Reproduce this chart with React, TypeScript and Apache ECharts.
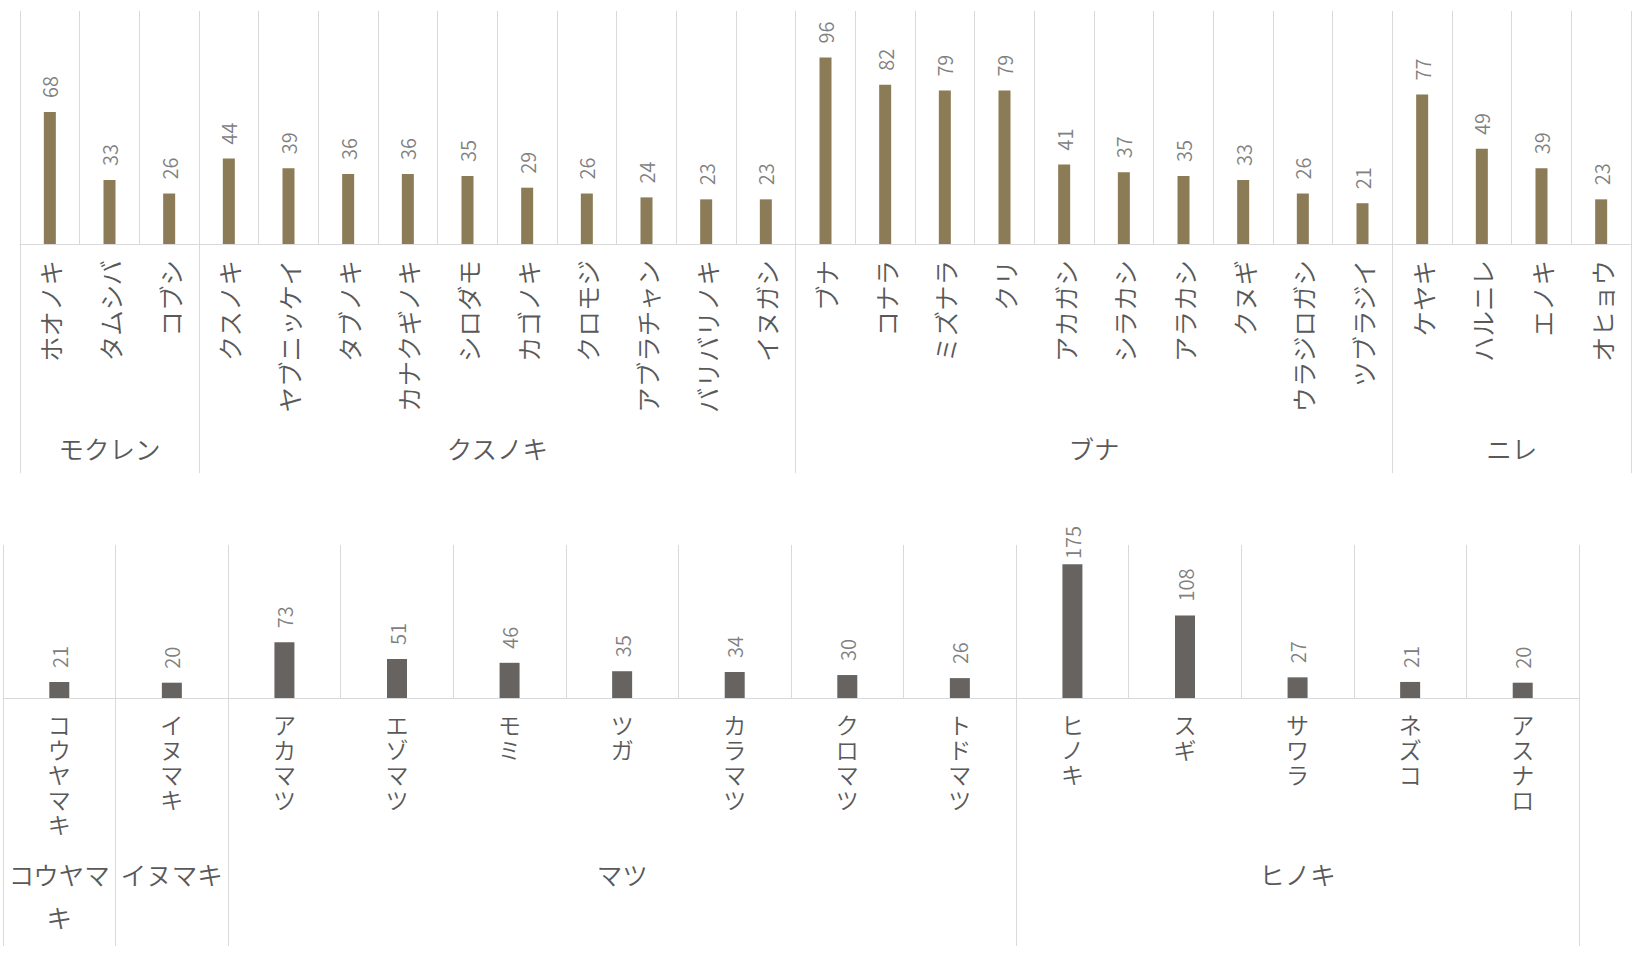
import React, { useEffect, useRef } from "react";
import * as echarts from "echarts";

// ---- Data: broadleaf trees (top chart) ----
const broadleafGroups = ["モクレン", "クスノキ", "ブナ", "ニレ"];
const broadleafGroupSizes = [3, 10, 10, 4];
const broadleafNames = [
  "ホオノキ", "タムシバ", "コブシ",
  "クスノキ", "ヤブニッケイ", "タブノキ", "カナクギノキ", "シロダモ", "カゴノキ", "クロモジ", "アブラチャン", "バリバリノキ", "イヌガシ",
  "ブナ", "コナラ", "ミズナラ", "クリ", "アカガシ", "シラカシ", "アラカシ", "クヌギ", "ウラジロガシ", "ツブラジイ",
  "ケヤキ", "ハルニレ", "エノキ", "オヒョウ",
];
const broadleafValues = [
  68, 33, 26,
  44, 39, 36, 36, 35, 29, 26, 24, 23, 23,
  96, 82, 79, 79, 41, 37, 35, 33, 26, 21,
  77, 49, 39, 23,
];

// ---- Data: conifers (bottom chart) ----
const coniferGroups = ["コウヤマキ", "イヌマキ", "マツ", "ヒノキ"];
const coniferGroupSizes = [1, 1, 7, 5];
const coniferNames = [
  "コウヤマキ",
  "イヌマキ",
  "アカマツ", "エゾマツ", "モミ", "ツガ", "カラマツ", "クロマツ", "トドマツ",
  "ヒノキ", "スギ", "サワラ", "ネズコ", "アスナロ",
];
const coniferValues = [21, 20, 73, 51, 46, 35, 34, 30, 26, 175, 108, 27, 21, 20];

const broadleafMax = 120;
const coniferMax = 200;

const FONT = '"Noto Sans CJK JP", "Noto Sans", sans-serif';
const LINE = "#d9d9d9";
const TEXT = "#595959";
const VALUE_TEXT = "#808080";

function spans(sizes: number[]): [number, number][] {
  const out: [number, number][] = [];
  let s = 0;
  for (const n of sizes) {
    out.push([s, s + n - 1]);
    s += n;
  }
  return out;
}

function groupLabelSeries(
  axisIndex: number,
  names: string[],
  sizes: number[],
  offset: number
) {
  const sp = spans(sizes);
  return {
    type: "custom",
    xAxisIndex: axisIndex,
    yAxisIndex: axisIndex,
    silent: true,
    clip: false,
    z: 5,
    data: sp.map(([s, e]) => [s, e, 0]),
    encode: { x: [0, 1], y: 2 },
    renderItem: (params: any, api: any) => {
      const a = api.coord([api.value(0), 0]);
      const b = api.coord([api.value(1), 0]);
      const band = api.size([1, 0])[0];
      const w = b[0] - a[0] + band;
      const cx = (a[0] + b[0]) / 2;
      return {
        type: "text",
        style: {
          text: names[params.dataIndex],
          x: cx,
          y: a[1] + offset,
          align: "center",
          verticalAlign: "top",
          width: w - 4,
          overflow: "break",
          lineHeight: 43,
          fill: TEXT,
          fontSize: 25.5,
          fontWeight: 350,
          fontFamily: FONT,
        },
      };
    },
  };
}

function startSet(sizes: number[]) {
  return new Set(spans(sizes).map((s) => s[0]));
}

export default function App() {
  const ref = useRef<HTMLDivElement>(null);

  useEffect(() => {
    if (!ref.current) return;
    const chart = echarts.init(ref.current, undefined, { renderer: "svg" });
    const starts0 = startSet(broadleafGroupSizes);
    const starts1 = startSet(coniferGroupSizes);

    const valueLabel = {
      show: true,
      position: "top",
      rotate: 90,
      align: "left",
      verticalAlign: "middle",
      distance: 14,
      color: VALUE_TEXT,
      fontSize: 20,
      fontWeight: 350,
      fontFamily: FONT,
    };

    // keep value labels inside the chart area (as the spreadsheet does);
    // the label is rotated 90°, so its local x axis points upward
    const clampTop = (limit: number) => (p: any) =>
      p.labelRect && p.labelRect.y < limit ? { dx: p.labelRect.y - limit } : {};

    chart.setOption({
      animation: false,
      backgroundColor: "#ffffff",
      grid: [
        { left: 20, top: 11, width: 1611, height: 233 },
        { left: 3, top: 545, width: 1576, height: 153 },
      ],
      xAxis: [
        {
          type: "category",
          gridIndex: 0,
          data: broadleafNames,
          axisLine: { lineStyle: { color: LINE, width: 1 } },
          axisTick: {
            show: true,
            interval: (i: number) => starts0.has(i),
            length: 229,
            lineStyle: { color: LINE },
          },
          splitLine: { show: true, interval: 0, lineStyle: { color: LINE } },
          axisLabel: {
            interval: 0,
            rotate: 90,
            margin: 16,
            color: TEXT,
            fontSize: 25.5,
            fontWeight: 350,
            fontFamily: FONT,
          },
        },
        {
          type: "category",
          gridIndex: 1,
          data: coniferNames,
          axisLine: { lineStyle: { color: LINE, width: 1 } },
          axisTick: {
            show: true,
            interval: (i: number) => starts1.has(i),
            length: 248,
            lineStyle: { color: LINE },
          },
          splitLine: { show: true, interval: 0, lineStyle: { color: LINE } },
          axisLabel: {
            interval: 0,
            margin: 13,
            color: TEXT,
            fontSize: 23,
            lineHeight: 25,
            fontWeight: 350,
            fontFamily: FONT,
            formatter: (v: string) => Array.from(v).join("\n"),
          },
        },
      ],
      yAxis: [
        { type: "value", gridIndex: 0, min: 0, max: broadleafMax, show: false, splitLine: { show: false } },
        { type: "value", gridIndex: 1, min: 0, max: coniferMax, show: false, splitLine: { show: false } },
      ],
      series: [
        {
          type: "bar",
          xAxisIndex: 0,
          yAxisIndex: 0,
          data: broadleafValues,
          barWidth: 12,
          itemStyle: { color: "#8b7b56" },
          label: valueLabel,
          labelLayout: clampTop(2),
        },
        {
          type: "bar",
          xAxisIndex: 1,
          yAxisIndex: 1,
          data: coniferValues,
          barWidth: 20,
          itemStyle: { color: "#676361" },
          label: valueLabel,
          labelLayout: clampTop(526),
        },
        groupLabelSeries(0, broadleafGroups, broadleafGroupSizes, 182),
        groupLabelSeries(1, coniferGroups, coniferGroupSizes, 154),
      ],
    });
    return () => chart.dispose();
  }, []);

  return (
    <div
      ref={ref}
      style={{ position: "fixed", left: 0, top: 0, width: 1640, height: 954, background: "#fff" }}
    />
  );
}
